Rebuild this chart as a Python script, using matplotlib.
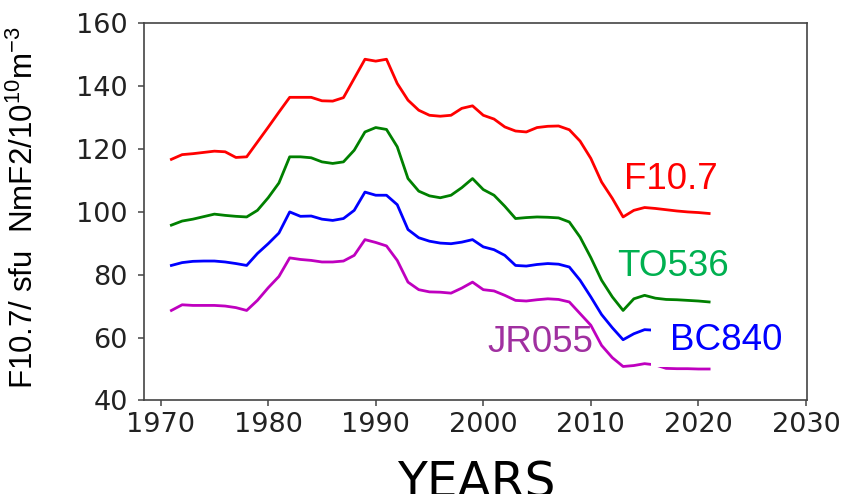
import numpy as np
import matplotlib.pyplot as plt
from matplotlib.patches import Rectangle

plt.rcParams['mathtext.fontset'] = 'custom'
plt.rcParams['mathtext.rm'] = 'Liberation Sans'
plt.rcParams['mathtext.it'] = 'Liberation Sans:italic'

years = np.arange(1971, 2022)

# solar flux index F10.7 (sfu)
f107 = [116.6, 118.1, 118.4, 118.8, 119.2, 119.0, 117.2, 117.4, 122.1, 126.8,
        131.6, 136.3, 136.3, 136.3, 135.2, 135.1, 136.2, 142.3, 148.4, 147.8,
        148.4, 140.7, 135.4, 132.2, 130.6, 130.3, 130.6, 132.8, 133.6, 130.6,
        129.4, 126.9, 125.6, 125.3, 126.7, 127.1, 127.2, 126.0, 122.4, 116.9,
        109.4, 104.2, 98.3, 100.4, 101.3, 101.0, 100.6, 100.2, 99.9, 99.7,
        99.4]

# NmF2 at the ionosonde stations (10^10 m^-3)
to536 = [95.7, 97.0, 97.6, 98.4, 99.2, 98.8, 98.5, 98.3, 100.4, 104.4,
         109.1, 117.4, 117.4, 117.1, 115.8, 115.3, 115.8, 119.5, 125.3, 126.7,
         126.1, 120.6, 110.5, 106.5, 105.0, 104.4, 105.2, 107.6, 110.5, 107.0,
         105.2, 101.7, 97.8, 98.1, 98.3, 98.2, 98.0, 96.7, 91.9, 85.4,
         78.2, 72.9, 68.6, 72.3, 73.4, 72.5, 72.1, 72.0, 71.8, 71.6,
         71.3]

bc840 = [82.9, 83.8, 84.2, 84.3, 84.3, 84.0, 83.5, 82.9, 86.7, 89.8,
         93.2, 99.9, 98.5, 98.6, 97.6, 97.2, 97.8, 100.4, 106.2, 105.2,
         105.2, 102.2, 94.3, 91.7, 90.6, 90.0, 89.8, 90.3, 91.1, 88.8,
         87.9, 86.1, 82.9, 82.7, 83.2, 83.5, 83.3, 82.4, 78.2, 72.9,
         67.3, 63.1, 59.3, 61.2, 62.5, 62.3, 62.1, 61.9, 61.7, 61.5,
         61.3]

jr055 = [68.6, 70.4, 70.2, 70.2, 70.2, 70.0, 69.5, 68.6, 71.8, 75.8,
         79.4, 85.3, 84.8, 84.5, 84.0, 84.0, 84.3, 86.1, 91.1, 90.2,
         89.1, 84.5, 77.6, 75.2, 74.5, 74.4, 74.1, 75.7, 77.6, 75.2,
         74.8, 73.4, 71.8, 71.6, 72.0, 72.3, 72.1, 71.3, 67.6, 63.9,
         57.5, 53.6, 50.8, 51.1, 51.7, 51.3, 50.2, 50.1, 50.1, 50.0,
         50.0]

fig = plt.figure(figsize=(8.46, 4.94), dpi=100)
ax = fig.add_axes([0.1708, 0.1893, 0.7831, 0.7647])

ax.plot(years, f107, color='red', lw=2)
ax.plot(years, to536, color='green', lw=2)
ax.plot(years, bc840, color='blue', lw=2)
ax.plot(years, jr055, color='m', lw=2)

# white box behind the BC840 label
ax.add_patch(Rectangle((2015.6, 50.7), 12, 15.5, facecolor='white',
                       edgecolor='none', zorder=3))

lab = dict(family='Liberation Sans', fontsize=26.5, ha='center',
           va='baseline', zorder=4)
ax.text(2017.4, 107.3, 'F10.7', color='red', **lab)
ax.text(2017.6, 79.6, 'TO536', color='#00B050', **lab)
ax.text(2022.6, 55.9, 'BC840', color='blue', **lab)
ax.text(2005.3, 55.3, 'JR055', color='#A030A0', **lab)

ax.set_xlim(1968.5, 2030.1)
ax.set_ylim(40, 160)
ax.set_xticks(range(1970, 2031, 10))
ax.set_yticks(range(40, 161, 20))

for s in ax.spines.values():
    s.set_color('#444444')
    s.set_linewidth(1.2)
ax.tick_params(colors='#444444', labelcolor='#222222', labelsize=19.5,
               length=4, width=1.1)
ax.tick_params(axis='y', pad=8)
ax.tick_params(axis='x', pad=4)

fig.text(0.029, 0.579, 'F10.7/ sfu  NmF2/10$^{10}$m$^{-3}$',
         family='Liberation Sans', fontsize=22.5, rotation=90,
         ha='center', va='center')
fig.text(0.563, -0.007, 'YEARS', fontsize=35, ha='center', va='baseline')

fig.savefig('out.png', dpi=100)
